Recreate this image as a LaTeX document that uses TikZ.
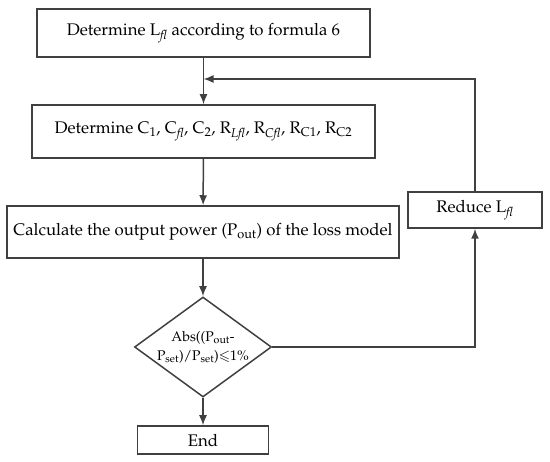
\documentclass[tikz,border=0pt]{standalone}
\usepackage[T1]{fontenc}
\usepackage{mathpazo}
\usepackage{amssymb}
\usetikzlibrary{positioning, arrows.meta, shapes.geometric}

\definecolor{linegray}{HTML}{404040}
\newcommand{\sbit}[1]{\textsubscript{\itshape #1}}

\begin{document}
\begin{tikzpicture}[
  x=1pt, y=-1pt,
  every node/.style = {font=\fontsize{16.8}{19}\selectfont, text=black},
  box/.style = {draw=linegray, line width=1.5pt, rectangle, inner sep=0pt, align=center},
  decide/.style = {draw=linegray, line width=1.5pt, diamond, aspect=1.37, inner sep=-4pt, align=center,
                   minimum width=137pt, minimum height=100pt, font=\fontsize{14}{16}\selectfont},
  arr/.style = {-{Latex[length=10pt, width=8pt]}, line width=1.5pt, draw=linegray}
]
\useasboundingbox (0,0) rectangle (550,462);

% Main chain
\node[box, minimum width=333pt, minimum height=48pt] (det1) at (203.5,33)
  {Determine L\sbit{fl} according to formula 6};
\node[box, minimum width=343pt, minimum height=53pt] (det2) at (203.5,131.5)
  {Determine C\textsubscript{1}, C\sbit{fl}, C\textsubscript{2}, R\sbit{Lfl}, R\sbit{Cfl}, R\textsubscript{C1}, R\textsubscript{C2}};
\node[box, minimum width=392pt, minimum height=52pt] (calc) at (203,232)
  {Calculate the output power (P\textsubscript{out}) of the loss model};
\node[decide] (check) at (203,347)
  {Abs((P\textsubscript{out}-\\[3pt]P\textsubscript{set})/P\textsubscript{set})$\leqslant$1\%};
\node[box, minimum width=131pt, minimum height=28pt] (stop) at (203,440) {End};

% Feedback loop
\node[box, minimum width=134pt, minimum height=36pt] (reduce) at (475,210) {Reduce L\sbit{fl}};
\coordinate (join) at (203.5,79);

% Edges
\draw[arr] (det1) -- (det2);
\draw[arr] (det2) -- (calc);
\draw[arr] (calc) -- (check);
\draw[arr] (check) -- (stop);
\draw[arr] (check.east) -| (reduce.south);
\draw[arr] (reduce.north) |- (join);

\end{tikzpicture}
\end{document}
